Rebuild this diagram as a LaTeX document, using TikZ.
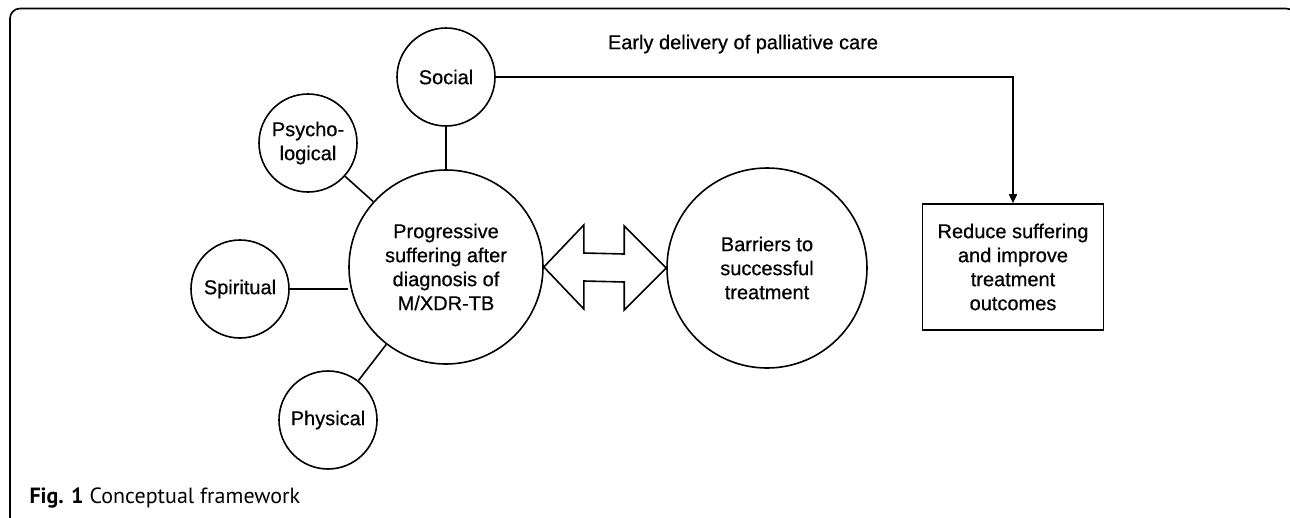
\documentclass[tikz,border=0pt]{standalone}
\usepackage{fontspec}
\setmainfont{Liberation Sans}[FakeBold=0.6]
\newfontfamily\capfont{PT Sans}
\usetikzlibrary{arrows.meta,calc}
\begin{document}
\begin{tikzpicture}[x=1pt,y=-1pt,
  every node/.style={font=\fontsize{20}{24}\selectfont, align=center},
  smallc/.style={circle, draw, line width=1.6pt, minimum size=98pt, inner sep=0pt},
  bigc/.style={circle, draw, line width=1.6pt, minimum size=194pt, inner sep=0pt},
  link/.style={line width=1.6pt},
  outcome/.style={draw, line width=1.6pt, minimum width=181pt, minimum height=126pt, inner sep=0pt},
]
\useasboundingbox (0,0) rectangle (1290,517);
\begin{scope}
  \clip (0,0) rectangle (1290,517);
  \draw[line width=1.6pt, rounded corners=10pt] (10,8.5) rectangle (1296,528);
\end{scope}

\node[bigc] (main) at (446,267) {Progressive\\suffering after\\diagnosis of\\M/XDR-TB};
\node[bigc, minimum size=200pt] (barr) at (767,268) {Barriers to\\successful\\treatment};
\node[smallc] (social) at (446,77) {Social};
\node[smallc] (psych) at (308,143) {Psycho-\\logical};
\node[smallc] (spirit) at (240,289) {Spiritual};
\node[smallc] (phys) at (328,420) {Physical};
\node[outcome] (out) at (1013,267) {Reduce suffering\\and improve\\treatment\\outcomes};
\node (lab) at (743,44) {Early delivery of palliative care};

\draw[link] (social) -- (main);
\draw[link] (psych) -- (main);
\draw[link] (spirit.east) -- (main.west |- spirit.east);
\draw[link] (phys) -- (main);
\draw[link, -{Triangle[length=9pt,width=8pt]}] (social.east) -- (social.east -| out.north) -- (out.north);

\path (main.east) coordinate (L) (barr.west) coordinate (R);
\draw[link, line join=miter] (L) -- ($(L)+(40,-42)$) -- ($(L)+(40,-14)$) -- ($(R)+(-42,-14)$)
  -- ($(R)+(-42,-42)$) -- (R) -- ($(R)+(-42,42)$) -- ($(R)+(-42,14)$)
  -- ($(L)+(40,14)$) -- ($(L)+(40,42)$) -- cycle;

\node[anchor=base west, font=\capfont\fontsize{22}{26}\selectfont] (cap) at (26,503) {\textbf{Fig. 1} Conceptual framework};
\end{tikzpicture}
\end{document}
